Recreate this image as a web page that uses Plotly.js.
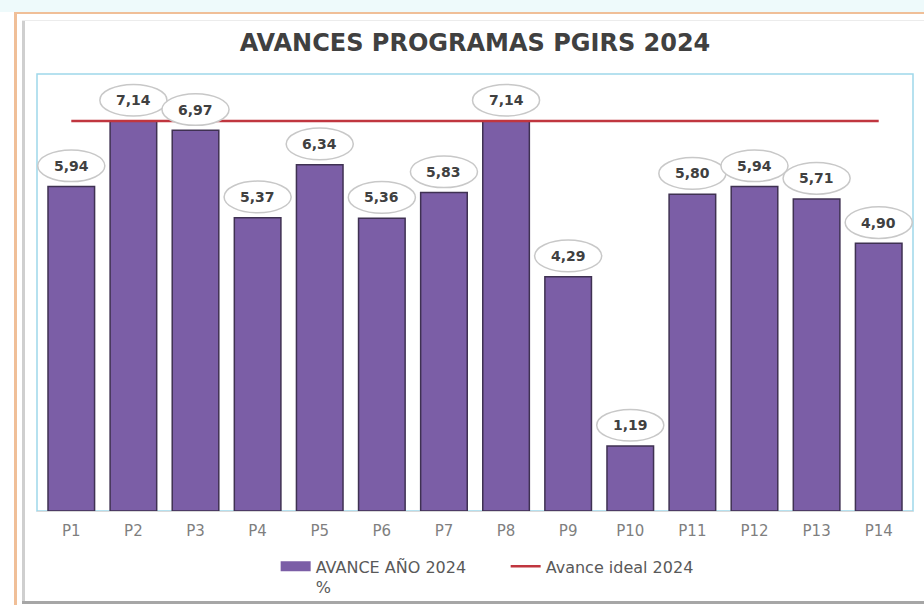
<!DOCTYPE html>
<html>
<head>
<meta charset="utf-8">
<script src="https://cdn.plot.ly/plotly-3.0.1.min.js"></script>
<style>
  html, body { margin: 0; padding: 0; background: #ffffff; }
  .deco { position: absolute; }
  #chart { position: absolute; top: 0; left: 0; width: 924px; height: 605px; }
</style>
</head>
<body>
<div class="deco" style="top:0;left:0;width:924px;height:12px;background:#eefafb;"></div>
<div class="deco" style="top:12px;left:14px;width:910px;height:2px;background:#f0bf98;"></div>
<div class="deco" style="top:12px;left:14px;width:3px;height:593px;background:#f0bf98;"></div>
<div class="deco" style="top:20px;left:22px;width:3px;height:583px;background:#cfcfcf;"></div>
<div class="deco" style="top:20px;left:22px;width:902px;height:1px;background:#ececec;"></div>
<div class="deco" style="top:601px;left:22px;width:902px;height:3px;background:#a6a6a6;"></div>
<div id="chart"></div>
<script>
var programas = ["P1", "P2", "P3", "P4", "P5", "P6", "P7", "P8", "P9", "P10", "P11", "P12", "P13", "P14"];
var avance = [5.94, 7.14, 6.97, 5.37, 6.34, 5.36, 5.83, 7.14, 4.29, 1.19, 5.80, 5.94, 5.71, 4.90];
var ideal = [7.14, 7.14, 7.14, 7.14, 7.14, 7.14, 7.14, 7.14, 7.14, 7.14, 7.14, 7.14, 7.14, 7.14];

var barras = {
  x: programas,
  y: avance,
  type: "bar",
  showlegend: false,
  marker: { color: "#7b5ea6", line: { color: "#3f3152", width: 1.5 } },
  hoverinfo: "skip"
};

// solo para la leyenda: rectangulo ancho como en el original
var leyendaBarras = {
  x: [null],
  y: [null],
  type: "scatter",
  mode: "lines",
  name: "AVANCE AÑO 2024<br>%",
  line: { color: "#7b5ea6", width: 11 },
  hoverinfo: "skip"
};

var linea = {
  x: programas,
  y: ideal,
  type: "scatter",
  mode: "lines",
  name: "Avance ideal 2024",
  line: { color: "#c0363f", width: 2.5 },
  hoverinfo: "skip"
};

// burbujas con el valor encima de cada barra
var burbujas = [];
var etiquetas = [];
avance.forEach(function (v, i) {
  burbujas.push({
    type: "circle", xref: "x", yref: "y", layer: "above",
    x0: i - 0.54, x1: i + 0.54, y0: v + 0.09, y1: v + 0.67,
    fillcolor: "#ffffff", line: { color: "#c8c8c8", width: 1.5 }
  });
  etiquetas.push({
    x: programas[i], y: v + 0.38, xref: "x", yref: "y",
    text: v.toFixed(2).replace(".", ","), showarrow: false,
    font: { family: "DejaVu Sans", size: 14, color: "#404040", weight: "bold" }
  });
});

// borde celeste del área de trazado
burbujas.push({
  type: "rect", xref: "paper", yref: "paper", x0: 0, x1: 1, y0: 0, y1: 1,
  line: { color: "#9fd8ea", width: 1.5 }, layer: "below"
});

var layout = {
  width: 924,
  height: 605,
  margin: { l: 37, r: 11, t: 74, b: 94, autoexpand: false },
  paper_bgcolor: "rgba(0,0,0,0)",
  plot_bgcolor: "rgba(0,0,0,0)",
  title: {
    text: "<b>AVANCES PROGRAMAS PGIRS 2024</b>",
    font: { family: "DejaVu Sans", size: 24, color: "#404040" },
    x: 0.5, xref: "paper", y: 0.93, yanchor: "middle"
  },
  bargap: 0.25,
  xaxis: {
    type: "category",
    showgrid: false,
    showline: true, linecolor: "#d9d9d9", linewidth: 1,
    ticks: "",
    ticklabelstandoff: 6,
    tickfont: { family: "DejaVu Sans", size: 15, color: "#7f7f7f" }
  },
  yaxis: {
    range: [0, 8],
    showgrid: false, zeroline: false, showticklabels: false, ticks: ""
  },
  showlegend: true,
  legend: {
    orientation: "h",
    x: 0.535, xanchor: "center",
    y: -0.088, yanchor: "top",
    valign: "top",
    entrywidth: 185,
    font: { family: "DejaVu Sans", size: 16, color: "#595959" },
    bgcolor: "rgba(0,0,0,0)"
  },
  shapes: burbujas,
  annotations: etiquetas
};

Plotly.newPlot("chart", [barras, leyendaBarras, linea], layout, { displayModeBar: false, staticPlot: true });
</script>
</body>
</html>
